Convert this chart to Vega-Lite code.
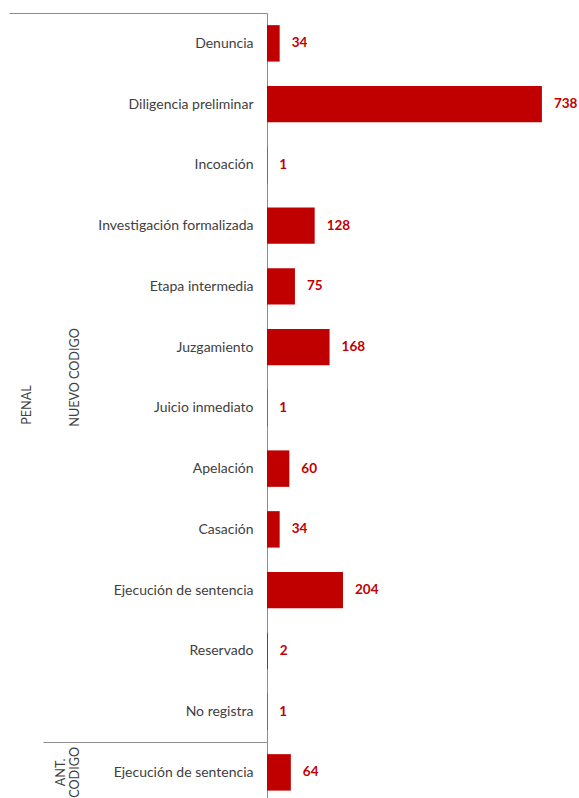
{
  "$schema": "https://vega.github.io/schema/vega-lite/v6.json",
  "padding": {"left": -5, "top": 6, "right": 0, "bottom": 0},
  "data": {"values": [
    {"codigo": "NUEVO CODIGO", "etapa": "Denuncia", "casos": 34},
    {"codigo": "NUEVO CODIGO", "etapa": "Diligencia preliminar", "casos": 738},
    {"codigo": "NUEVO CODIGO", "etapa": "Incoación", "casos": 1},
    {"codigo": "NUEVO CODIGO", "etapa": "Investigación formalizada", "casos": 128},
    {"codigo": "NUEVO CODIGO", "etapa": "Etapa intermedia", "casos": 75},
    {"codigo": "NUEVO CODIGO", "etapa": "Juzgamiento", "casos": 168},
    {"codigo": "NUEVO CODIGO", "etapa": "Juicio inmediato", "casos": 1},
    {"codigo": "NUEVO CODIGO", "etapa": "Apelación", "casos": 60},
    {"codigo": "NUEVO CODIGO", "etapa": "Casación", "casos": 34},
    {"codigo": "NUEVO CODIGO", "etapa": "Ejecución de sentencia", "casos": 204},
    {"codigo": "NUEVO CODIGO", "etapa": "Reservado", "casos": 2},
    {"codigo": "NUEVO CODIGO", "etapa": "No registra", "casos": 1},
    {"codigo": "ANT. CODIGO", "etapa": "Ejecución de sentencia", "casos": 64}
  ]},
  "facet": {
    "row": {
      "field": "codigo", "type": "nominal",
      "sort": ["NUEVO CODIGO", "ANT. CODIGO"],
      "title": "PENAL",
      "header": {
        "labelAngle": -90,
        "labelFont": "Lato", "labelFontSize": 12.6, "labelColor": "#404040",
        "labelPadding": 179,
        "labelExpr": "datum.value === 'ANT. CODIGO' ? ['ANT.', 'CODIGO'] : datum.value",
        "labelLineHeight": 14,
        "titleAngle": -90,
        "titleFont": "Lato", "titleFontSize": 12.6, "titleFontWeight": "normal", "titleColor": "#404040",
        "titlePadding": -2
      }
    }
  },
  "spacing": 0,
  "bounds": "flush",
  "resolve": {"scale": {"y": "independent"}},
  "spec": {
    "width": 298,
    "height": {"step": 60.75},
    "encoding": {
      "y": {
        "field": "etapa", "type": "nominal", "sort": null,
        "scale": {"paddingInner": 0, "paddingOuter": 0},
        "axis": {
          "title": null,
          "domainColor": "#8c8c8c",
          "tickBand": "extent",
          "tickColor": "#8c8c8c",
          "tickSize": {"expr": "datum.index === -1 ? (datum.extra && datum.extra.value === 'Denuncia' ? 258 : 224) : 0"},
          "labelPadding": 14,
          "labelFont": "Lato", "labelFontSize": 14, "labelColor": "#404040"
        }
      }
    },
    "layer": [
      {
        "mark": {"type": "bar", "color": "#C00000", "height": {"band": 0.6}},
        "encoding": {"x": {"field": "casos", "type": "quantitative", "scale": {"domain": [0, 800]}, "axis": null}}
      },
      {
        "mark": {"type": "text", "align": "left", "baseline": "middle", "dx": 12, "font": "Lato", "fontSize": 13.5, "fontWeight": "bold", "color": "#C00000"},
        "encoding": {
          "x": {"field": "casos", "type": "quantitative"},
          "text": {"field": "casos", "type": "quantitative"}
        }
      }
    ]
  },
  "config": {"view": {"stroke": null}}
}
